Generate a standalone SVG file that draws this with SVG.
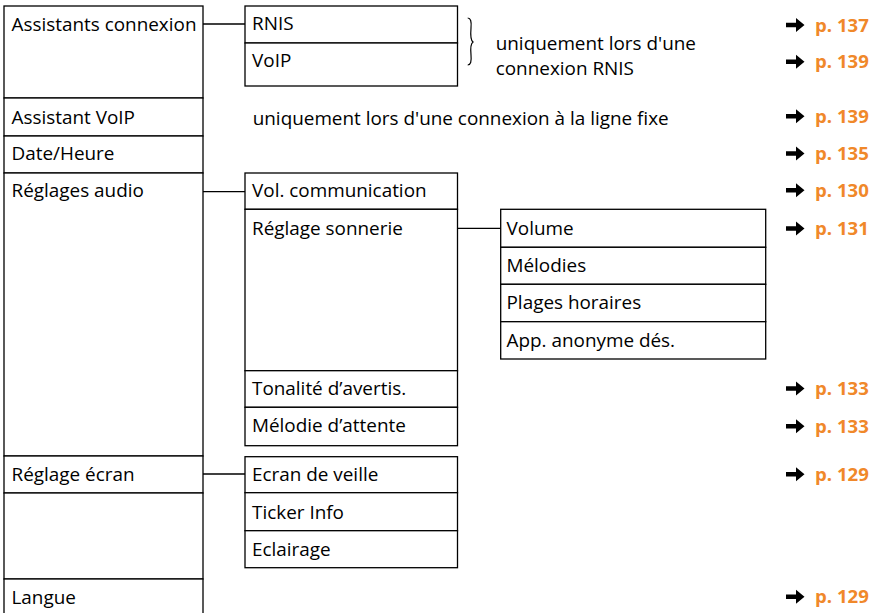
<svg xmlns="http://www.w3.org/2000/svg" width="880" height="613" viewBox="0 0 880 613">
<style>
rect.box{fill:#fff;stroke:#000;stroke-width:1.3}
text{font-family:"Open Sans","Noto Sans","Liberation Sans",sans-serif;font-size:18.9px;fill:#000}
text.ref{font-weight:bold;font-size:18.6px;fill:#F0882A}
.conn line{stroke:#000;stroke-width:1.3}
</style>
<defs>
<path id="arr" d="M0,-2.2 H10 V-7 L18.5,0 L10,7 V2.2 H0 Z" fill="#000"/>
</defs>
<rect width="880" height="613" fill="#fff"/>
<g id="col1">
<g id="n-assistants"><rect class="box" x="4" y="6" width="199" height="92"/><text x="11.5" y="30.5">Assistants connexion</text></g>
<g id="n-assistantvoip"><rect class="box" x="4" y="98" width="199" height="38"/><text x="11.5" y="124">Assistant VoIP</text></g>
<g id="n-date"><rect class="box" x="4" y="136" width="199" height="37"/><text x="11.5" y="159.5">Date/Heure</text></g>
<g id="n-audio"><rect class="box" x="4" y="173" width="199" height="283"/><text x="11.5" y="196.5">Réglages audio</text></g>
<g id="n-ecran"><rect class="box" x="4" y="456" width="199" height="37"/><rect class="box" x="4" y="493" width="199" height="86"/><text x="11.5" y="481">Réglage écran</text></g>
<g id="n-langue"><rect class="box" x="4" y="579" width="199" height="50"/><text x="11.5" y="604">Langue</text></g>
</g>
<g id="col2">
<g id="n-rnis"><rect class="box" x="245" y="6" width="212.5" height="37"/><text x="252" y="30">RNIS</text></g>
<g id="n-voip"><rect class="box" x="245" y="43" width="212.5" height="43"/><text x="252" y="66.5">VoIP</text></g>
<g id="n-volcom"><rect class="box" x="245" y="173" width="212.5" height="36.3"/><text x="252" y="196.5">Vol. communication</text></g>
<g id="n-sonnerie"><rect class="box" x="245" y="209.3" width="212.5" height="161.4"/><text x="252" y="234.5">Réglage sonnerie</text></g>
<g id="n-tonalite"><rect class="box" x="245" y="370.7" width="212.5" height="36.6"/><text x="252" y="395">Tonalité d’avertis.</text></g>
<g id="n-attente"><rect class="box" x="245" y="407.3" width="212.5" height="38.4"/><text x="252" y="431.7">Mélodie d’attente</text></g>
<g id="n-veille"><rect class="box" x="245" y="456.7" width="212.5" height="36"/><text x="252" y="480.7">Ecran de veille</text></g>
<g id="n-ticker"><rect class="box" x="245" y="492.7" width="212.5" height="38"/><text x="252" y="519">Ticker Info</text></g>
<g id="n-eclairage"><rect class="box" x="245" y="530.7" width="212.5" height="37"/><text x="252" y="556">Eclairage</text></g>
</g>
<g id="col3">
<g id="n-volume"><rect class="box" x="500.7" y="209.3" width="265" height="38"/><text x="506.5" y="235">Volume</text></g>
<g id="n-melodies"><rect class="box" x="500.7" y="247.3" width="265" height="37"/><text x="506.5" y="271.7">Mélodies</text></g>
<g id="n-plages"><rect class="box" x="500.7" y="284.3" width="265" height="37.4"/><text x="506.5" y="309">Plages horaires</text></g>
<g id="n-anonyme"><rect class="box" x="500.7" y="321.7" width="265" height="37.3"/><text x="506.5" y="346.7">App. anonyme dés.</text></g>
</g>
<g class="conn" id="connectors">
<line x1="203" y1="24" x2="245" y2="24"/>
<line x1="203" y1="191.7" x2="245" y2="191.7"/>
<line x1="457.5" y1="228.3" x2="500.7" y2="228.3"/>
<line x1="203" y1="474" x2="245" y2="474"/>
</g>
<g id="notes">
<path d="M467.7,18 Q472,18 471,28 Q470,40 473,42 Q470,44 471,55 Q472,65 467.7,65" fill="none" stroke="#000" stroke-width="1.2"/>
<text x="495.7" y="49.5">uniquement lors d'une<tspan x="495.7" y="74.5">connexion RNIS</tspan></text>
<text x="252.7" y="125">uniquement lors d'une connexion à la ligne fixe</text>
</g>
<g id="refs">
<use href="#arr" x="786" y="25"/><text class="ref" x="815" y="31.7">p. 137</text>
<use href="#arr" x="786" y="61.8"/><text class="ref" x="815" y="68.3">p. 139</text>
<use href="#arr" x="786" y="116.2"/><text class="ref" x="815" y="122.7">p. 139</text>
<use href="#arr" x="786" y="153.5"/><text class="ref" x="815" y="160">p. 135</text>
<use href="#arr" x="786" y="190.2"/><text class="ref" x="815" y="196.7">p. 130</text>
<use href="#arr" x="786" y="228.5"/><text class="ref" x="815" y="235">p. 131</text>
<use href="#arr" x="786" y="388.5"/><text class="ref" x="815" y="395">p. 133</text>
<use href="#arr" x="786" y="426.2"/><text class="ref" x="815" y="432.7">p. 133</text>
<use href="#arr" x="786" y="474.2"/><text class="ref" x="815" y="480.7">p. 129</text>
<use href="#arr" x="786" y="596.8"/><text class="ref" x="815" y="603.3">p. 129</text>
</g>
</svg>
